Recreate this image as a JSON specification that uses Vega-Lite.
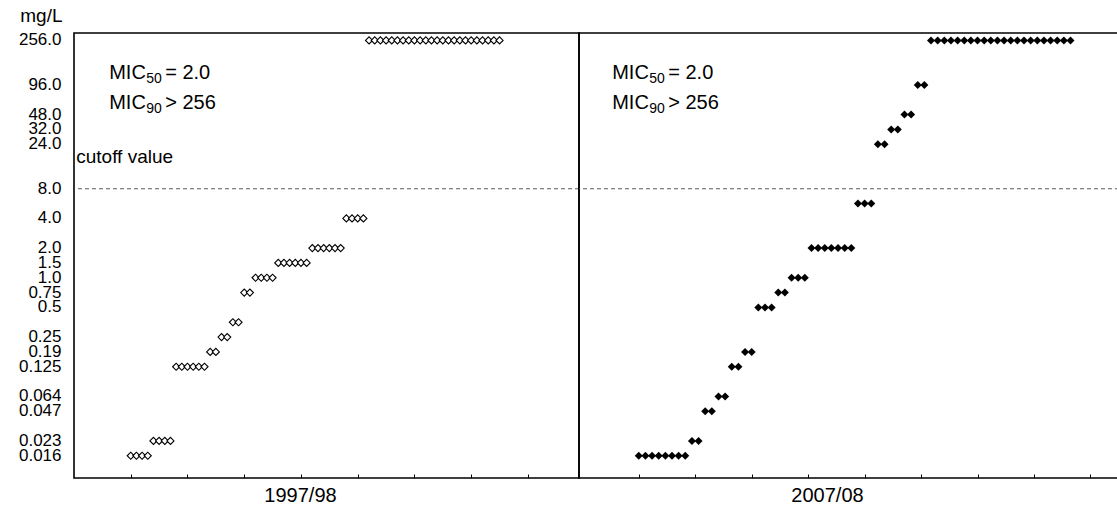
{
  "$schema": "https://vega.github.io/schema/vega-lite/v6.json",
  "background": "white",
  "padding": {"left": 17, "top": 5, "right": 0, "bottom": 0},
  "spacing": 0,
  "bounds": "flush",
  "config": {
    "font": "Liberation Sans",
    "view": {"stroke": "black", "strokeWidth": 1.6},
    "axis": {"labelColor": "black", "titleColor": "black", "tickColor": "black", "titleFontWeight": "normal", "grid": false, "labelFont": "Liberation Sans", "titleFont": "Liberation Sans"},
    "text": {"font": "Liberation Sans", "color": "black"}
  },
  "datasets": {
    "pts": [
      {"period":"1997/98","i":0,"mic":0.016},{"period":"1997/98","i":1,"mic":0.016},{"period":"1997/98","i":2,"mic":0.016},{"period":"1997/98","i":3,"mic":0.016},
      {"period":"1997/98","i":4,"mic":0.023},{"period":"1997/98","i":5,"mic":0.023},{"period":"1997/98","i":6,"mic":0.023},{"period":"1997/98","i":7,"mic":0.023},
      {"period":"1997/98","i":8,"mic":0.125},{"period":"1997/98","i":9,"mic":0.125},{"period":"1997/98","i":10,"mic":0.125},{"period":"1997/98","i":11,"mic":0.125},{"period":"1997/98","i":12,"mic":0.125},{"period":"1997/98","i":13,"mic":0.125},
      {"period":"1997/98","i":14,"mic":0.19},{"period":"1997/98","i":15,"mic":0.19},
      {"period":"1997/98","i":16,"mic":0.25},{"period":"1997/98","i":17,"mic":0.25},
      {"period":"1997/98","i":18,"mic":0.38},{"period":"1997/98","i":19,"mic":0.38},
      {"period":"1997/98","i":20,"mic":0.75},{"period":"1997/98","i":21,"mic":0.75},
      {"period":"1997/98","i":22,"mic":1},{"period":"1997/98","i":23,"mic":1},{"period":"1997/98","i":24,"mic":1},{"period":"1997/98","i":25,"mic":1},
      {"period":"1997/98","i":26,"mic":1.5},{"period":"1997/98","i":27,"mic":1.5},{"period":"1997/98","i":28,"mic":1.5},{"period":"1997/98","i":29,"mic":1.5},{"period":"1997/98","i":30,"mic":1.5},{"period":"1997/98","i":31,"mic":1.5},
      {"period":"1997/98","i":32,"mic":2},{"period":"1997/98","i":33,"mic":2},{"period":"1997/98","i":34,"mic":2},{"period":"1997/98","i":35,"mic":2},{"period":"1997/98","i":36,"mic":2},{"period":"1997/98","i":37,"mic":2},
      {"period":"1997/98","i":38,"mic":4},{"period":"1997/98","i":39,"mic":4},{"period":"1997/98","i":40,"mic":4},{"period":"1997/98","i":41,"mic":4},
      {"period":"1997/98","i":42,"mic":256},{"period":"1997/98","i":43,"mic":256},{"period":"1997/98","i":44,"mic":256},{"period":"1997/98","i":45,"mic":256},{"period":"1997/98","i":46,"mic":256},{"period":"1997/98","i":47,"mic":256},
      {"period":"1997/98","i":48,"mic":256},{"period":"1997/98","i":49,"mic":256},{"period":"1997/98","i":50,"mic":256},{"period":"1997/98","i":51,"mic":256},{"period":"1997/98","i":52,"mic":256},{"period":"1997/98","i":53,"mic":256},
      {"period":"1997/98","i":54,"mic":256},{"period":"1997/98","i":55,"mic":256},{"period":"1997/98","i":56,"mic":256},{"period":"1997/98","i":57,"mic":256},{"period":"1997/98","i":58,"mic":256},{"period":"1997/98","i":59,"mic":256},
      {"period":"1997/98","i":60,"mic":256},{"period":"1997/98","i":61,"mic":256},{"period":"1997/98","i":62,"mic":256},{"period":"1997/98","i":63,"mic":256},{"period":"1997/98","i":64,"mic":256},{"period":"1997/98","i":65,"mic":256},
      {"period":"2007/08","i":0,"mic":0.016},{"period":"2007/08","i":1,"mic":0.016},{"period":"2007/08","i":2,"mic":0.016},{"period":"2007/08","i":3,"mic":0.016},{"period":"2007/08","i":4,"mic":0.016},{"period":"2007/08","i":5,"mic":0.016},{"period":"2007/08","i":6,"mic":0.016},{"period":"2007/08","i":7,"mic":0.016},
      {"period":"2007/08","i":8,"mic":0.023},{"period":"2007/08","i":9,"mic":0.023},
      {"period":"2007/08","i":10,"mic":0.047},{"period":"2007/08","i":11,"mic":0.047},
      {"period":"2007/08","i":12,"mic":0.064},{"period":"2007/08","i":13,"mic":0.064},
      {"period":"2007/08","i":14,"mic":0.125},{"period":"2007/08","i":15,"mic":0.125},
      {"period":"2007/08","i":16,"mic":0.19},{"period":"2007/08","i":17,"mic":0.19},
      {"period":"2007/08","i":18,"mic":0.5},{"period":"2007/08","i":19,"mic":0.5},{"period":"2007/08","i":20,"mic":0.5},
      {"period":"2007/08","i":21,"mic":0.75},{"period":"2007/08","i":22,"mic":0.75},
      {"period":"2007/08","i":23,"mic":1},{"period":"2007/08","i":24,"mic":1},{"period":"2007/08","i":25,"mic":1},
      {"period":"2007/08","i":26,"mic":2},{"period":"2007/08","i":27,"mic":2},{"period":"2007/08","i":28,"mic":2},{"period":"2007/08","i":29,"mic":2},{"period":"2007/08","i":30,"mic":2},{"period":"2007/08","i":31,"mic":2},{"period":"2007/08","i":32,"mic":2},
      {"period":"2007/08","i":33,"mic":6},{"period":"2007/08","i":34,"mic":6},{"period":"2007/08","i":35,"mic":6},
      {"period":"2007/08","i":36,"mic":24},{"period":"2007/08","i":37,"mic":24},
      {"period":"2007/08","i":38,"mic":32},{"period":"2007/08","i":39,"mic":32},
      {"period":"2007/08","i":40,"mic":48},{"period":"2007/08","i":41,"mic":48},
      {"period":"2007/08","i":42,"mic":96},{"period":"2007/08","i":43,"mic":96},
      {"period":"2007/08","i":44,"mic":256},{"period":"2007/08","i":45,"mic":256},{"period":"2007/08","i":46,"mic":256},{"period":"2007/08","i":47,"mic":256},{"period":"2007/08","i":48,"mic":256},{"period":"2007/08","i":49,"mic":256},{"period":"2007/08","i":50,"mic":256},{"period":"2007/08","i":51,"mic":256},
      {"period":"2007/08","i":52,"mic":256},{"period":"2007/08","i":53,"mic":256},{"period":"2007/08","i":54,"mic":256},{"period":"2007/08","i":55,"mic":256},{"period":"2007/08","i":56,"mic":256},{"period":"2007/08","i":57,"mic":256},{"period":"2007/08","i":58,"mic":256},
      {"period":"2007/08","i":59,"mic":256},{"period":"2007/08","i":60,"mic":256},{"period":"2007/08","i":61,"mic":256},{"period":"2007/08","i":62,"mic":256},{"period":"2007/08","i":63,"mic":256},{"period":"2007/08","i":64,"mic":256},{"period":"2007/08","i":65,"mic":256}
    ],
    "notes": [
      {"period":"1997/98","i":-3.8,"mic":128,"main":"MIC","sub":"50","rest":"= 2.0"},
      {"period":"1997/98","i":-3.8,"mic":64,"main":"MIC","sub":"90","rest":"> 256"},
      {"period":"2007/08","i":-4,"mic":128,"main":"MIC","sub":"50","rest":"= 2.0"},
      {"period":"2007/08","i":-4,"mic":64,"main":"MIC","sub":"90","rest":"> 256"}
    ],
    "cut": [
      {"period":"1997/98","i":-9.6,"mic":16,"text":"cutoff value","level":8}
    ]
  },
  "hconcat": [
    {
      "width": 505,
      "height": 445,
      "layer": [
        {
          "data": {"name": "pts"},
          "transform": [{"filter": "datum.period == '1997/98'"}],
          "mark": {"type": "point", "shape": "diamond", "filled": false, "fill": "white", "fillOpacity": 1, "stroke": "black", "strokeWidth": 1.1, "size": 50, "opacity": 1},
          "encoding": {
            "x": {"field": "i", "type": "quantitative", "scale": {"domain": [-10, 79], "nice": false, "zero": false},
              "axis": {"values": [0, 10, 20, 30, 40, 50, 60, 70], "labels": false, "domain": false,
                "tickSize": -4,
                "tickWidth": 1, "title": "1997/98", "titleFontSize": 20, "titleX": 226, "titleY": 17, "titleBaseline": "middle", "titleAlign": "center"}},
            "y": {"field": "mic", "type": "ordinal",
              "scale": {"type": "band", "domain": [256,192,128,96,64,48,32,24,16,12,8,6,4,3,2,1.5,1,0.75,0.5,0.38,0.25,0.19,0.125,0.094,0.064,0.047,0.032,0.023,0.016,0.012], "paddingInner": 0, "paddingOuter": 0},
              "axis": {"values": [256,96,48,32,24,8,4,2,1.5,1,0.75,0.5,0.25,0.19,0.125,0.064,0.047,0.023,0.016],
                "labelExpr": "datum.value >= 1 ? format(datum.value, '.1f') : datum.label",
                "ticks": false, "domain": false, "labelPadding": 13, "labelFont": "Liberation Sans", "labelFontSize": 17, "labelOverlap": false, "labelBound": false,
                "title": "mg/L", "titleFont": "Liberation Sans", "titleAngle": 0, "titleAlign": "right", "titleBaseline": "middle", "titleX": -12, "titleY": -18, "titleFontSize": 19}}
          }
        },
        {
          "data": {"name": "cut"},
          "mark": {"type": "rule", "strokeDash": [4, 3], "color": "#333", "strokeWidth": 0.8},
          "encoding": {"y": {"field": "level", "type": "ordinal"}}
        },
        {
          "data": {"name": "notes"},
          "transform": [{"filter": "datum.period == '1997/98'"}],
          "mark": {"type": "text", "align": "left", "baseline": "middle", "fontSize": 20, "dy": 3},
          "encoding": {"x": {"field": "i", "type": "quantitative"}, "y": {"field": "mic", "type": "ordinal"}, "text": {"field": "main"}}
        },
        {
          "data": {"name": "notes"},
          "transform": [{"filter": "datum.period == '1997/98'"}],
          "mark": {"type": "text", "align": "left", "baseline": "middle", "fontSize": 14, "dy": 9, "dx": 37},
          "encoding": {"x": {"field": "i", "type": "quantitative"}, "y": {"field": "mic", "type": "ordinal"}, "text": {"field": "sub"}}
        },
        {
          "data": {"name": "notes"},
          "transform": [{"filter": "datum.period == '1997/98'"}],
          "mark": {"type": "text", "align": "left", "baseline": "middle", "fontSize": 20, "dy": 3, "dx": 56},
          "encoding": {"x": {"field": "i", "type": "quantitative"}, "y": {"field": "mic", "type": "ordinal"}, "text": {"field": "rest"}}
        },
        {
          "data": {"name": "cut"},
          "mark": {"type": "text", "align": "left", "baseline": "middle", "fontSize": 19, "dy": -2},
          "encoding": {"x": {"field": "i", "type": "quantitative"}, "y": {"field": "mic", "type": "ordinal"}, "text": {"field": "text"}}
        }
      ]
    },
    {
      "width": 540,
      "height": 445,
      "layer": [
        {
          "data": {"name": "pts"},
          "transform": [{"filter": "datum.period == '2007/08'"}],
          "mark": {"type": "point", "shape": "diamond", "filled": true, "color": "black", "size": 64, "opacity": 1},
          "encoding": {
            "x": {"field": "i", "type": "quantitative", "scale": {"domain": [-9, 72.3], "nice": false, "zero": false},
              "axis": {"values": [0, 8.5, 17, 25.5, 34, 42.5, 51, 59.5, 68], "labels": false, "domain": false,
                "tickSize": -4,
                "tickWidth": 1, "title": "2007/08", "titleFontSize": 20, "titleX": 248, "titleY": 17, "titleBaseline": "middle", "titleAlign": "center"}},
            "y": {"field": "mic", "type": "ordinal",
              "scale": {"type": "band", "domain": [256,192,128,96,64,48,32,24,16,12,8,6,4,3,2,1.5,1,0.75,0.5,0.38,0.25,0.19,0.125,0.094,0.064,0.047,0.032,0.023,0.016,0.012], "paddingInner": 0, "paddingOuter": 0},
              "axis": null}
          }
        },
        {
          "data": {"name": "cut"},
          "mark": {"type": "rule", "strokeDash": [4, 3], "color": "#333", "strokeWidth": 0.8},
          "encoding": {"y": {"field": "level", "type": "ordinal", "axis": null}}
        },
        {
          "data": {"name": "notes"},
          "transform": [{"filter": "datum.period == '2007/08'"}],
          "mark": {"type": "text", "align": "left", "baseline": "middle", "fontSize": 20, "dy": 3},
          "encoding": {"x": {"field": "i", "type": "quantitative"}, "y": {"field": "mic", "type": "ordinal", "axis": null}, "text": {"field": "main"}}
        },
        {
          "data": {"name": "notes"},
          "transform": [{"filter": "datum.period == '2007/08'"}],
          "mark": {"type": "text", "align": "left", "baseline": "middle", "fontSize": 14, "dy": 9, "dx": 37},
          "encoding": {"x": {"field": "i", "type": "quantitative"}, "y": {"field": "mic", "type": "ordinal", "axis": null}, "text": {"field": "sub"}}
        },
        {
          "data": {"name": "notes"},
          "transform": [{"filter": "datum.period == '2007/08'"}],
          "mark": {"type": "text", "align": "left", "baseline": "middle", "fontSize": 20, "dy": 3, "dx": 56},
          "encoding": {"x": {"field": "i", "type": "quantitative"}, "y": {"field": "mic", "type": "ordinal", "axis": null}, "text": {"field": "rest"}}
        }
      ]
    }
  ]
}
